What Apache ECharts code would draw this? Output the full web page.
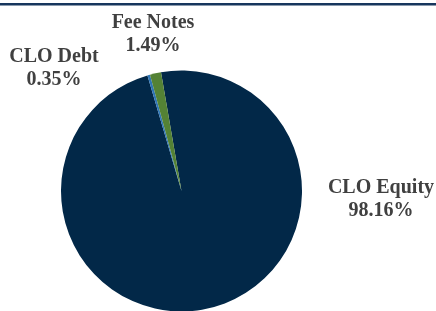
<!DOCTYPE html>
<html>
<head>
<meta charset="utf-8">
<script src="https://cdn.jsdelivr.net/npm/echarts@6/dist/echarts.min.js"></script>
<style>
  html, body { margin: 0; padding: 0; background: #fff; }
  #chart { width: 436px; height: 311px; }
</style>
</head>
<body>
<div id="chart"></div>
<script>
const names = ['CLO Equity', 'CLO Debt', 'Fee Notes']
const shares = [98.16, 0.35, 1.49]
const colors = ['#022848', '#2e75b6', '#548235']
// where each label sits (centre of the text block)
const labelSpots = [[381, 199], [54, 68], [153, 34]]

const chart = echarts.init(document.getElementById('chart'))

const pieData = names.map((n, i) => ({
  name: n,
  value: shares[i],
  itemStyle: { color: colors[i] }
}))

chart.setOption({
  animation: false,
  graphic: [{
    type: 'rect',
    shape: { x: 0, y: 3, width: 436, height: 2.5 },
    style: { fill: '#17365d' }
  }],
  series: [{
    type: 'pie',
    center: [181.5, 191],
    radius: 120.5,
    startAngle: 99.8,
    clockwise: true,
    data: pieData,
    itemStyle: { borderWidth: 0 },
    label: {
      show: true,
      position: 'outside',
      formatter: p => p.name + '\n' + p.value.toFixed(2) + '%',
      fontFamily: 'Liberation Serif',
      fontWeight: 'bold',
      fontSize: 20,
      lineHeight: 23,
      color: '#404040',
      align: 'center',
      overflow: 'none',
      width: 200
    },
    labelLine: { show: false },
    labelLayout: p => ({
      x: labelSpots[p.dataIndex][0],
      y: labelSpots[p.dataIndex][1],
      align: 'center',
      verticalAlign: 'middle'
    })
  }]
})
</script>
</body>
</html>
